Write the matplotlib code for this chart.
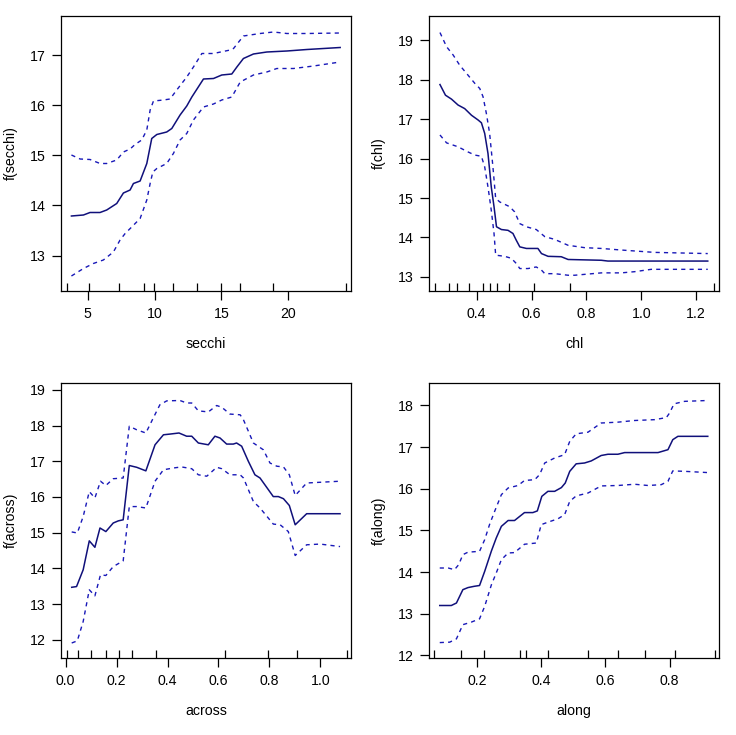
import numpy as np
import matplotlib
matplotlib.use("Agg")
import matplotlib.pyplot as plt

plt.rcParams['font.family'] = ['Liberation Sans', 'DejaVu Sans']

# --- secchi ---
secchi_x = [3.78, 4.68, 5.17, 5.92, 6.42, 7.17, 7.67, 8.17, 8.42, 8.92, 9.42, 9.79, 10.17, 10.91,
            11.29, 11.91, 12.41, 12.79, 13.66, 14.41, 15.03, 15.78, 16.16, 16.65, 17.40, 18.40,
            19.90, 21.40, 23.89]
secchi_fit = [13.79, 13.81, 13.86, 13.86, 13.91, 14.04, 14.25, 14.31, 14.44, 14.49, 14.84, 15.34,
              15.42, 15.47, 15.54, 15.81, 15.99, 16.17, 16.53, 16.54, 16.61, 16.63, 16.77, 16.94,
              17.03, 17.07, 17.09, 17.12, 17.16]
secchi_up_x = [3.78, 4.43, 5.17, 5.92, 6.42, 7.17, 7.67, 8.17, 8.54, 9.04, 9.42, 9.67, 9.92, 10.67,
               11.16, 11.66, 12.41, 12.91, 13.54, 14.41, 15.66, 15.91, 16.65, 17.90, 18.90, 19.90,
               21.40, 23.89]
secchi_up = [15.01, 14.93, 14.92, 14.84, 14.84, 14.91, 15.07, 15.13, 15.22, 15.31, 15.51, 15.91,
             16.09, 16.11, 16.13, 16.31, 16.57, 16.77, 17.04, 17.04, 17.11, 17.14, 17.39, 17.44,
             17.47, 17.44, 17.44, 17.45]
secchi_lo_x = [3.78, 4.68, 5.42, 6.17, 6.92, 7.42, 7.80, 8.29, 8.92, 9.42, 9.67, 9.87, 10.17, 10.91,
               11.41, 11.91, 12.41, 12.91, 13.66, 14.41, 15.03, 15.78, 16.41, 17.40, 18.40, 19.15,
               20.40, 21.90, 23.89]
secchi_lo = [12.59, 12.74, 12.84, 12.91, 13.07, 13.31, 13.44, 13.57, 13.74, 14.11, 14.44, 14.67,
             14.74, 14.84, 15.04, 15.31, 15.44, 15.71, 15.97, 16.03, 16.11, 16.17, 16.47, 16.61,
             16.67, 16.74, 16.74, 16.79, 16.87]
secchi_rug = [3.43, 5.12, 7.37, 9.24, 9.94, 11.37, 13.21, 15.0, 16.43, 18.9, 24.35]

# --- chl ---
chl_x = [0.266, 0.286, 0.308, 0.332, 0.356, 0.381, 0.405, 0.417, 0.429, 0.441, 0.453, 0.463, 0.472,
         0.490, 0.514, 0.532, 0.544, 0.557, 0.581, 0.623, 0.636, 0.660, 0.708, 0.733, 0.854, 0.878,
         1.242]
chl_fit = [17.88, 17.61, 17.51, 17.36, 17.27, 17.10, 16.98, 16.91, 16.64, 16.13, 15.28, 14.78, 14.27,
           14.20, 14.18, 14.10, 13.93, 13.76, 13.72, 13.72, 13.59, 13.52, 13.51, 13.44, 13.42, 13.40,
           13.40]
chl_up_x = [0.266, 0.290, 0.314, 0.338, 0.368, 0.393, 0.411, 0.423, 0.435, 0.447, 0.459, 0.469,
            0.484, 0.520, 0.538, 0.557, 0.581, 0.617, 0.648, 0.684, 0.733, 0.793, 0.854, 0.927,
            1.048, 1.242]
chl_up = [19.20, 18.84, 18.63, 18.37, 18.12, 17.91, 17.78, 17.57, 17.15, 16.64, 15.79, 14.99, 14.90,
          14.78, 14.65, 14.35, 14.27, 14.20, 14.02, 13.95, 13.80, 13.74, 13.72, 13.68, 13.62, 13.59]
chl_lo_x = [0.266, 0.290, 0.332, 0.368, 0.393, 0.417, 0.429, 0.441, 0.453, 0.463, 0.469, 0.502,
            0.526, 0.544, 0.557, 0.587, 0.617, 0.636, 0.648, 0.684, 0.733, 0.757, 0.854, 0.927,
            0.975, 1.036, 1.242]
chl_lo = [16.60, 16.40, 16.30, 16.17, 16.09, 16.06, 15.79, 15.28, 14.69, 14.10, 13.55, 13.52, 13.47,
          13.34, 13.21, 13.21, 13.25, 13.17, 13.08, 13.08, 13.04, 13.04, 13.10, 13.10, 13.13, 13.19,
          13.19]
chl_rug = [0.248, 0.298, 0.327, 0.372, 0.424, 0.447, 0.475, 0.516, 0.609, 0.741, 1.264]

# --- across ---
across_x = [0.024, 0.043, 0.069, 0.093, 0.115, 0.135, 0.158, 0.187, 0.207, 0.226, 0.250, 0.279,
            0.315, 0.351, 0.384, 0.410, 0.445, 0.475, 0.495, 0.521, 0.560, 0.586, 0.606, 0.632,
            0.658, 0.671, 0.691, 0.717, 0.743, 0.763, 0.815, 0.835, 0.855, 0.878, 0.901, 0.946,
            1.077]
across_fit = [13.47, 13.49, 13.96, 14.77, 14.59, 15.13, 15.03, 15.27, 15.33, 15.36, 16.88, 16.83,
              16.73, 17.46, 17.74, 17.76, 17.79, 17.70, 17.70, 17.51, 17.46, 17.70, 17.65, 17.48,
              17.48, 17.51, 17.42, 17.00, 16.62, 16.53, 16.01, 16.01, 15.95, 15.76, 15.22, 15.53,
              15.53]
across_up_x = [0.024, 0.046, 0.069, 0.093, 0.115, 0.137, 0.158, 0.187, 0.226, 0.250, 0.279, 0.315,
               0.344, 0.370, 0.397, 0.449, 0.475, 0.495, 0.521, 0.560, 0.593, 0.613, 0.645, 0.685,
               0.698, 0.737, 0.776, 0.802, 0.829, 0.855, 0.878, 0.901, 0.946, 1.077]
across_up = [15.02, 14.99, 15.45, 16.15, 15.97, 16.44, 16.32, 16.51, 16.53, 17.98, 17.88, 17.79,
             18.21, 18.58, 18.69, 18.70, 18.63, 18.63, 18.41, 18.38, 18.56, 18.51, 18.32, 18.30,
             18.16, 17.51, 17.32, 16.95, 16.86, 16.84, 16.62, 16.04, 16.39, 16.44]
across_lo_x = [0.024, 0.046, 0.069, 0.093, 0.115, 0.137, 0.158, 0.187, 0.226, 0.250, 0.279, 0.315,
               0.351, 0.384, 0.423, 0.455, 0.495, 0.521, 0.554, 0.593, 0.613, 0.645, 0.685, 0.698,
               0.737, 0.763, 0.815, 0.842, 0.874, 0.901, 0.946, 0.999, 1.077]
across_lo = [11.91, 11.97, 12.51, 13.40, 13.23, 13.82, 13.80, 14.05, 14.21, 15.73, 15.73, 15.69,
             16.44, 16.76, 16.81, 16.84, 16.79, 16.62, 16.58, 16.83, 16.79, 16.62, 16.62, 16.53,
             15.87, 15.69, 15.24, 15.22, 15.03, 14.36, 14.66, 14.68, 14.61]
across_rug = [0.004, 0.047, 0.098, 0.157, 0.210, 0.259, 0.354, 0.624, 0.795, 0.908, 1.104]

# --- along ---
along_x = [0.084, 0.120, 0.136, 0.156, 0.172, 0.191, 0.208, 0.224, 0.245, 0.260, 0.276, 0.297,
           0.317, 0.348, 0.374, 0.388, 0.402, 0.421, 0.442, 0.463, 0.475, 0.489, 0.509, 0.535,
           0.556, 0.587, 0.608, 0.639, 0.660, 0.764, 0.795, 0.810, 0.826, 0.919]
along_fit = [13.20, 13.20, 13.26, 13.58, 13.63, 13.66, 13.68, 14.02, 14.51, 14.82, 15.10, 15.24,
             15.24, 15.43, 15.43, 15.47, 15.82, 15.94, 15.94, 16.03, 16.14, 16.42, 16.60, 16.62,
             16.67, 16.80, 16.83, 16.83, 16.87, 16.87, 16.94, 17.18, 17.26, 17.26]
along_up_x = [0.084, 0.110, 0.130, 0.143, 0.156, 0.172, 0.208, 0.224, 0.239, 0.255, 0.276, 0.297,
              0.328, 0.348, 0.380, 0.395, 0.411, 0.442, 0.473, 0.489, 0.509, 0.546, 0.587, 0.639,
              0.691, 0.753, 0.790, 0.800, 0.814, 0.847, 0.919]
along_up = [14.10, 14.10, 14.06, 14.18, 14.42, 14.48, 14.50, 14.78, 15.14, 15.46, 15.86, 16.02,
            16.08, 16.20, 16.22, 16.34, 16.62, 16.74, 16.82, 17.14, 17.32, 17.36, 17.58, 17.60,
            17.64, 17.66, 17.71, 17.82, 18.04, 18.10, 18.12]
along_lo_x = [0.084, 0.115, 0.136, 0.156, 0.182, 0.208, 0.224, 0.245, 0.260, 0.276, 0.297, 0.317,
              0.348, 0.385, 0.400, 0.421, 0.452, 0.473, 0.489, 0.509, 0.546, 0.587, 0.639, 0.691,
              0.733, 0.774, 0.795, 0.810, 0.847, 0.919]
along_lo = [12.31, 12.32, 12.40, 12.74, 12.80, 12.88, 13.18, 13.70, 13.98, 14.30, 14.46, 14.47,
            14.67, 14.70, 15.14, 15.20, 15.28, 15.38, 15.70, 15.83, 15.90, 16.07, 16.08, 16.11,
            16.08, 16.10, 16.18, 16.43, 16.42, 16.39]
along_rug = [0.067, 0.150, 0.222, 0.335, 0.352, 0.420, 0.547, 0.638, 0.725, 0.816, 0.941]

panels = [
    ("secchi", secchi_x, secchi_fit, secchi_up_x, secchi_up, secchi_lo_x, secchi_lo, secchi_rug,
     (3.0, 24.7), (12.29, 17.79), [5, 10, 15, 20], [13, 14, 15, 16, 17], "{:g}"),
    ("chl", chl_x, chl_fit, chl_up_x, chl_up, chl_lo_x, chl_lo, chl_rug,
     (0.226, 1.283), (12.64, 19.62), [0.4, 0.6, 0.8, 1.0, 1.2], [13, 14, 15, 16, 17, 18, 19], "{:.1f}"),
    ("across", across_x, across_fit, across_up_x, across_up, across_lo_x, across_lo, across_rug,
     (-0.018, 1.120), (11.49, 19.19), [0.0, 0.2, 0.4, 0.6, 0.8, 1.0], [12, 13, 14, 15, 16, 17, 18, 19], "{:.1f}"),
    ("along", along_x, along_fit, along_up_x, along_up, along_lo_x, along_lo, along_rug,
     (0.0505, 0.954), (11.94, 18.54), [0.2, 0.4, 0.6, 0.8], [12, 13, 14, 15, 16, 17, 18], "{:.1f}"),
]

W, H = 736, 735
fig = plt.figure(figsize=(W / 100, H / 100), dpi=100)
# axes boxes in pixels: left, top
boxes = [(61, 16), (429, 16), (61, 383), (429, 383)]
bw, bh = 290, 275
fs = 10.2

for (name, x, fit, ux, up, lx, lo, rug, xl, yl, xt, yt, fmt), (l, t) in zip(panels, boxes):
    ax = fig.add_axes([l / W, (H - t - bh) / H, bw / W, bh / H])
    ax.plot(x, fit, color="#10107a", lw=1.1)
    ax.plot(ux, up, color="#1818b8", lw=1.0, linestyle=(0, (3, 3)))
    ax.plot(lx, lo, color="#1818b8", lw=1.0, linestyle=(0, (3, 3)))
    # rug along the bottom, drawn inward
    ax.vlines(rug, 0, 0.03, transform=ax.get_xaxis_transform(), color="black", lw=0.9)
    ax.set_xlim(*xl)
    ax.set_ylim(*yl)
    ax.set_xticks(xt)
    ax.set_xticklabels([fmt.format(v) for v in xt])
    ax.set_yticks(yt)
    ax.tick_params(direction="out", length=6.3, width=0.9, labelsize=fs, pad=5)
    ax.tick_params(axis="x", pad=5.5)
    for s in ax.spines.values():
        s.set_linewidth(0.9)
    ax.set_xlabel(name, fontsize=fs, labelpad=11.5)
    ax.set_ylabel("f(%s)" % name, fontsize=fs, labelpad=8.5)

fig.savefig("out.png", dpi=100)
